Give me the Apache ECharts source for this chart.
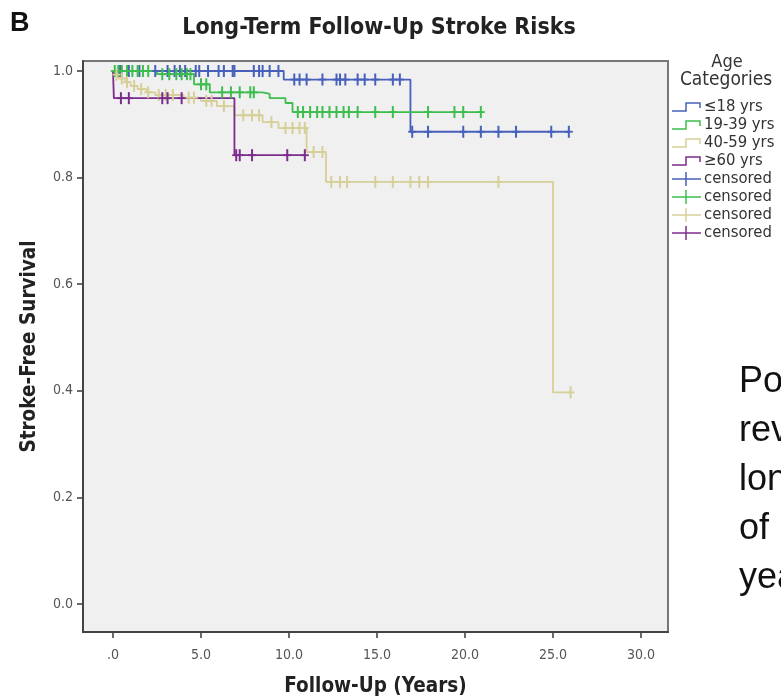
<!DOCTYPE html>
<html>
<head>
<meta charset="utf-8">
<script src="https://cdn.jsdelivr.net/npm/echarts@6/dist/echarts.min.js"></script>
<style>
  html, body { margin: 0; padding: 0; background: #ffffff; }
  #chart { width: 781px; height: 697px; }
</style>
</head>
<body>
<div id="chart"></div>
<script>
// Kaplan-Meier step curves: times where the curve steps, survival after each step,
// last follow-up time and censored observation times for each age group.
const xTicks = [0, 5, 10, 15, 20, 25, 30];
const yTicks = [0, 0.2, 0.4, 0.6, 0.8, 1.0];

const groupNames = ['≤18 yrs', '19-39 yrs', '40-59 yrs', '≥60 yrs'];
const groupColors = ['#4760bb', '#3dbd4d', '#d6cf98', '#7b2c8c'];

const u18Times = [0, 9.7, 16.9];
const u18Surv  = [1.0, 0.984, 0.886];
const u18End = 25.9;
const u18Censor = [0.4, 0.9, 1.5, 2.4, 3.1, 3.5, 3.8, 4.1, 4.7, 4.9, 5.4, 6.0, 6.3, 6.8, 6.9, 8.0, 8.3, 8.5, 8.9, 9.4,
  10.3, 10.6, 11.0, 11.9, 12.7, 12.9, 13.2, 13.9, 14.3, 14.9, 15.9, 16.3,
  17.0, 17.9, 19.9, 20.9, 21.9, 22.9, 24.9, 25.9];

const a1939Times = [0, 2.5, 4.6, 5.5, 8.5, 8.9, 9.8, 10.2];
const a1939Surv  = [1.0, 0.994, 0.975, 0.96, 0.957, 0.949, 0.94, 0.923];
const a1939End = 20.9;
const a1939Censor = [0.1, 0.3, 0.5, 0.8, 1.1, 1.4, 1.7, 2.0, 2.8, 3.2, 3.6, 3.9, 4.2, 4.4, 5.0, 5.3,
  6.2, 6.7, 7.2, 7.8, 8.0, 10.5, 10.8, 11.2, 11.6, 11.9, 12.3, 12.7, 13.1, 13.4, 13.9,
  14.9, 15.9, 17.9, 19.4, 19.9, 20.9];

const a4059Times = [0, 0.15, 0.4, 0.7, 1.0, 1.4, 1.9, 2.4, 4.0, 5.0, 5.9, 6.9, 8.5, 9.4, 11.0, 12.1, 25.0];
const a4059Surv  = [1.0, 0.993, 0.986, 0.979, 0.972, 0.966, 0.960, 0.955, 0.950, 0.944, 0.934, 0.917,
  0.904, 0.893, 0.848, 0.792, 0.397];
const a4059End = 26.0;
const a4059Censor = [0.2, 0.5, 0.8, 1.2, 1.6, 2.0, 2.6, 3.0, 3.4, 4.3, 4.6, 5.3, 5.6, 6.3, 7.4, 7.9, 8.3,
  9.0, 9.8, 10.2, 10.6, 10.9, 11.4, 11.9, 12.4, 12.9, 13.3, 14.9, 15.9, 16.9, 17.4, 17.9, 21.9, 26.0];

const o60Times = [0, 0.05, 6.9];
const o60Surv  = [1.0, 0.949, 0.842];
const o60End = 10.9;
const o60Censor = [0.45, 0.9, 2.8, 3.1, 3.9, 7.0, 7.2, 7.9, 9.9, 10.9];

const groups = [
  { times: u18Times, surv: u18Surv, end: u18End, censor: u18Censor },
  { times: a1939Times, surv: a1939Surv, end: a1939End, censor: a1939Censor },
  { times: a4059Times, surv: a4059Surv, end: a4059End, censor: a4059Censor },
  { times: o60Times, surv: o60Surv, end: o60End, censor: o60Censor }
];

const sideText = ['Post', 'review', 'long', 'of', 'years'];

// Survival level of a step curve at time t
function survAt(g, t) {
  let s = g.surv[0];
  for (let i = 0; i < g.times.length; i++) {
    if (g.times[i] <= t) s = g.surv[i];
  }
  return s;
}

const condensed = "'DejaVu Sans Condensed', 'Liberation Sans Narrow', sans-serif";

// Plot frame in pixels; the axis ranges extend a little beyond the tick range
const frame = { x0: 83, y0: 61, x1: 668, y1: 632 };
const xPx0 = 113, xPxPerYear = 17.6;   // pixel of t=0 and pixels per year
const yPx0 = 604, yPxPerUnit = 533;    // pixel of S=0 and pixels per unit survival

const series = [];
groups.forEach((g, gi) => {
  const pts = g.times.map((t, i) => [t, g.surv[i]]);
  pts.push([g.end, g.surv[g.surv.length - 1]]);
  series.push({
    type: 'line',
    name: groupNames[gi],
    step: 'end',
    data: pts,
    showSymbol: false,
    clip: false,
    silent: true,
    z: 3 + gi,
    lineStyle: { color: groupColors[gi], width: 1.8 }
  });
});
groups.forEach((g, gi) => {
  series.push({
    type: 'custom',
    name: 'censored ' + gi,
    data: g.censor.map(t => [t, survAt(g, t)]),
    silent: true,
    z: 10 + gi,
    renderItem: function (params, api) {
      const p = api.coord([api.value(0), api.value(1)]);
      return {
        type: 'group',
        children: [
          { type: 'line', shape: { x1: p[0] - 4, y1: p[1], x2: p[0] + 4, y2: p[1] },
            style: { stroke: groupColors[gi], lineWidth: 1.8 } },
          { type: 'line', shape: { x1: p[0], y1: p[1] - 6, x2: p[0], y2: p[1] + 6 },
            style: { stroke: groupColors[gi], lineWidth: 2 } }
        ]
      };
    }
  });
});

// Legend drawn as graphic elements
const legendChildren = [];
const legX = 672;
const legRowY = [107, 125, 143, 161, 179, 197, 215, 233];
legendChildren.push({ type: 'text', style: {
  x: 727, y: 62, text: 'Age', textAlign: 'center', textVerticalAlign: 'middle',
  font: '18px ' + condensed, fill: '#333' } });
legendChildren.push({ type: 'text', style: {
  x: 726, y: 80, text: 'Categories', textAlign: 'center', textVerticalAlign: 'middle',
  font: '19px ' + condensed, fill: '#333' } });
groupNames.forEach((n, i) => {
  const y = legRowY[i];
  legendChildren.push({ type: 'polyline', shape: { points: [[legX, y + 4], [legX + 14, y + 4], [legX + 14, y - 4], [legX + 28, y - 4], [legX + 28, y + 1]] },
    style: { stroke: groupColors[i], lineWidth: 1.5, fill: null } });
  legendChildren.push({ type: 'text', style: { x: legX + 32, y: y, text: n, textVerticalAlign: 'middle',
    font: '16.5px ' + condensed, fill: '#333' } });
});
groupNames.forEach((n, i) => {
  const y = legRowY[4 + i];
  legendChildren.push({ type: 'line', shape: { x1: legX, y1: y, x2: legX + 29, y2: y }, style: { stroke: groupColors[i], lineWidth: 1.5 } });
  legendChildren.push({ type: 'line', shape: { x1: legX + 14, y1: y - 7, x2: legX + 14, y2: y + 7 }, style: { stroke: groupColors[i], lineWidth: 1.5 } });
  legendChildren.push({ type: 'text', style: { x: legX + 32, y: y, text: 'censored', textVerticalAlign: 'middle',
    font: '16.5px ' + condensed, fill: '#333' } });
});

const chart = echarts.init(document.getElementById('chart'), null, { renderer: 'canvas' });
chart.setOption({
  animation: false,
  backgroundColor: '#ffffff',
  title: {
    text: 'Long-Term Follow-Up Stroke Risks',
    left: 374, top: 12, textAlign: 'center',
    textStyle: { fontFamily: condensed, fontSize: 23, fontWeight: 'bold', color: '#222' }
  },
  grid: {
    left: frame.x0, top: frame.y0, right: 781 - frame.x1, bottom: 697 - frame.y1,
    outerBoundsMode: 'none', containLabel: false,
    show: true, backgroundColor: '#f0f0f0', borderColor: '#777', borderWidth: 2
  },
  xAxis: {
    type: 'value',
    min: (frame.x0 - xPx0) / xPxPerYear,
    max: (frame.x1 - xPx0) / xPxPerYear,
    axisLine: { show: true, onZero: false, lineStyle: { color: '#444', width: 2 } },
    axisTick: { show: true, length: 6, customValues: xTicks, lineStyle: { color: '#444', width: 1.6 } },
    axisLabel: { margin: 16, color: '#555', fontSize: 14, fontFamily: condensed, customValues: xTicks,
      formatter: v => v === 0 ? '.0' : v.toFixed(1) },
    splitLine: { show: false },
    name: 'Follow-Up (Years)', nameLocation: 'middle', nameGap: 44,
    nameTextStyle: { fontFamily: condensed, fontSize: 20.5, fontWeight: 'bold', color: '#222' }
  },
  yAxis: {
    type: 'value',
    min: -(frame.y1 - yPx0) / yPxPerUnit,
    max: 1 + (yPx0 - yPxPerUnit - frame.y0) / yPxPerUnit,
    axisLine: { show: true, onZero: false, lineStyle: { color: '#444', width: 2 } },
    axisTick: { show: true, length: 6, customValues: yTicks, lineStyle: { color: '#444', width: 1.6 } },
    axisLabel: { margin: 10, color: '#555', fontSize: 14, fontFamily: condensed, customValues: yTicks,
      formatter: v => v.toFixed(1) },
    splitLine: { show: false },
    name: 'Stroke-Free Survival', nameLocation: 'middle', nameGap: 43, nameRotate: 90,
    nameTextStyle: { fontFamily: condensed, fontSize: 20.5, fontWeight: 'bold', color: '#222' }
  },
  graphic: [
    { type: 'text', style: { x: 10, y: 24, text: 'B', textVerticalAlign: 'middle',
      font: 'bold 27px "Liberation Sans", Arial, sans-serif', fill: '#111' } },
    { type: 'group', children: legendChildren },
    { type: 'group', children: sideText.map((s, i) => ({
      type: 'text', style: { x: 739, y: 382 + i * 49, text: s, textVerticalAlign: 'middle',
        font: '36px "Liberation Sans", Arial, sans-serif', fill: '#111' } })) }
  ],
  series: series
});
</script>
</body>
</html>
